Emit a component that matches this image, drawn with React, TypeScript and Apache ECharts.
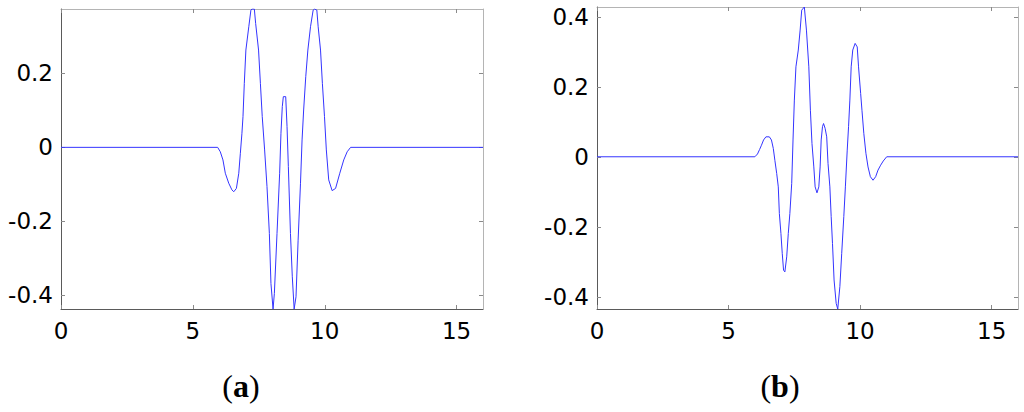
import React, { useEffect, useRef } from "react";
import * as echarts from "echarts";

// Panel (a) wavelet samples
const xA = [0, 5.94, 6.04, 6.14, 6.23, 6.36, 6.48, 6.55, 6.65, 6.74, 6.80, 6.86, 6.90, 6.95, 7.01, 7.12, 7.20, 7.24, 7.33, 7.38, 7.49, 7.56, 7.63, 7.72, 7.81, 7.90, 7.96, 8.04, 8.09, 8.19, 8.29, 8.34, 8.39, 8.43, 8.52, 8.57, 8.62, 8.70, 8.77, 8.84, 8.91, 8.99, 9.08, 9.14, 9.20, 9.28, 9.36, 9.46, 9.56, 9.61, 9.70, 9.75, 9.84, 9.91, 9.99, 10.06, 10.15, 10.28, 10.41, 10.57, 10.72, 10.85, 10.98, 16];
const yA = [0, 0, -0.012, -0.034, -0.070, -0.097, -0.115, -0.120, -0.111, -0.070, -0.016, 0.038, 0.083, 0.173, 0.263, 0.326, 0.371, 0.374, 0.374, 0.335, 0.263, 0.173, 0.083, -0.007, -0.106, -0.233, -0.368, -0.437, -0.395, -0.233, -0.070, 0.038, 0.110, 0.137, 0.137, 0.056, -0.052, -0.233, -0.350, -0.437, -0.404, -0.251, -0.097, 0.020, 0.101, 0.191, 0.263, 0.326, 0.371, 0.374, 0.371, 0.326, 0.263, 0.173, 0.083, -0.007, -0.088, -0.117, -0.111, -0.070, -0.034, -0.012, 0, 0];

// Panel (b) wavelet samples
const xB = [0, 6.00, 6.10, 6.18, 6.25, 6.33, 6.42, 6.55, 6.63, 6.70, 6.76, 6.83, 6.89, 6.93, 6.99, 7.04, 7.09, 7.14, 7.21, 7.27, 7.33, 7.40, 7.45, 7.50, 7.56, 7.65, 7.72, 7.78, 7.88, 7.96, 8.05, 8.11, 8.17, 8.24, 8.29, 8.36, 8.43, 8.48, 8.52, 8.57, 8.61, 8.67, 8.73, 8.78, 8.85, 8.90, 8.95, 9.01, 9.09, 9.15, 9.23, 9.30, 9.38, 9.44, 9.51, 9.56, 9.61, 9.66, 9.72, 9.81, 9.89, 9.94, 10.02, 10.07, 10.14, 10.22, 10.30, 10.39, 10.49, 10.59, 10.68, 10.78, 10.88, 11.01, 16];
const yB = [0, 0, 0.008, 0.021, 0.033, 0.048, 0.057, 0.057, 0.048, 0.024, -0.010, -0.048, -0.086, -0.162, -0.219, -0.276, -0.324, -0.329, -0.286, -0.219, -0.162, -0.076, 0.048, 0.162, 0.257, 0.305, 0.362, 0.419, 0.428, 0.362, 0.257, 0.133, 0.038, -0.029, -0.086, -0.103, -0.086, -0.029, 0.048, 0.086, 0.095, 0.081, 0.057, -0.019, -0.086, -0.171, -0.248, -0.352, -0.419, -0.435, -0.371, -0.276, -0.171, -0.086, 0.019, 0.086, 0.162, 0.257, 0.305, 0.324, 0.314, 0.257, 0.181, 0.133, 0.067, 0.010, -0.029, -0.057, -0.067, -0.057, -0.038, -0.024, -0.012, 0, 0];

// Axis ranges and ticks
const xRange = [0, 16];
const xTicks = [0, 5, 10, 15];
const yRangeA = [-0.437, 0.374];
const yTicksA = [-0.4, -0.2, 0, 0.2];
const yRangeB = [-0.435, 0.428];
const yTicksB = [-0.4, -0.2, 0, 0.2, 0.4];
const panelLabels = ["a", "b"];

const LABEL_FONT = "'DejaVu Sans', 'Liberation Sans', Arial, sans-serif";
const SERIF = "'Liberation Serif', 'Times New Roman', serif";

function xAxisFor(grid: number, pos: "bottom" | "top") {
  const main = pos === "bottom";
  return {
    type: "value",
    gridIndex: grid,
    position: pos,
    min: xRange[0],
    max: xRange[1],
    splitLine: { show: false },
    axisLine: { show: true, onZero: false, lineStyle: { color: main ? "#5a5a5a" : "#b4b4b4", width: 1 } },
    axisTick: {
      show: true,
      inside: true,
      length: 4,
      customValues: xTicks,
      lineStyle: { color: "#8a8a8a" },
    },
    axisLabel: {
      show: main,
      customValues: xTicks,
      fontSize: 23,
      fontFamily: LABEL_FONT,
      color: "#000",
      margin: 10,
    },
  };
}

function yAxisFor(grid: number, pos: "left" | "right", range: number[], ticks: number[]) {
  const main = pos === "left";
  return {
    type: "value",
    gridIndex: grid,
    position: pos,
    min: range[0],
    max: range[1],
    splitLine: { show: false },
    axisLine: { show: true, onZero: false, lineStyle: { color: main ? "#5a5a5a" : "#b4b4b4", width: 1 } },
    axisTick: {
      show: true,
      inside: true,
      length: 4,
      customValues: ticks,
      lineStyle: { color: "#8a8a8a" },
    },
    axisLabel: {
      show: main,
      customValues: ticks,
      fontSize: 23,
      fontFamily: LABEL_FONT,
      color: "#000",
      margin: 8,
      formatter: (v: number) => String(Math.round(v * 10) / 10),
    },
  };
}

export default function App() {
  const ref = useRef<HTMLDivElement>(null);
  useEffect(() => {
    if (!ref.current) return;
    const chart = echarts.init(ref.current, undefined, { renderer: "svg" });
    const dataA = xA.map((x, i) => [x, yA[i]]);
    const dataB = xB.map((x, i) => [x, yB[i]]);
    const labelRich = {
      p: { fontFamily: SERIF, fontSize: 32, fill: "#000" },
      b: { fontFamily: SERIF, fontSize: 32, fontWeight: "bold", fill: "#000" },
    };
    chart.setOption({
      animation: false,
      backgroundColor: "#fff",
      grid: [
        { left: 61, top: 9, width: 422, height: 300, containLabel: false },
        { left: 597, top: 7, width: 421, height: 302, containLabel: false },
      ],
      xAxis: [
        xAxisFor(0, "bottom"),
        xAxisFor(0, "top"),
        xAxisFor(1, "bottom"),
        xAxisFor(1, "top"),
      ],
      yAxis: [
        yAxisFor(0, "left", yRangeA, yTicksA),
        yAxisFor(0, "right", yRangeA, yTicksA),
        yAxisFor(1, "left", yRangeB, yTicksB),
        yAxisFor(1, "right", yRangeB, yTicksB),
      ],
      series: [
        {
          type: "line",
          xAxisIndex: 0,
          yAxisIndex: 0,
          data: dataA,
          showSymbol: false,
          symbol: "none",
          lineStyle: { color: "#3434ff", width: 1 },
        },
        {
          type: "line",
          xAxisIndex: 2,
          yAxisIndex: 2,
          data: dataB,
          showSymbol: false,
          symbol: "none",
          lineStyle: { color: "#3434ff", width: 1 },
        },
      ],
      graphic: [
        {
          type: "text",
          x: 241,
          y: 386,
          style: {
            text: `{p|(}{b|${panelLabels[0]}}{p|)}`,
            rich: labelRich,
            align: "center",
            verticalAlign: "middle",
          },
        },
        {
          type: "text",
          x: 780,
          y: 386,
          style: {
            text: `{p|(}{b|${panelLabels[1]}}{p|)}`,
            rich: labelRich,
            align: "center",
            verticalAlign: "middle",
          },
        },
      ],
    });
    return () => chart.dispose();
  }, []);
  return (
    <div
      ref={ref}
      style={{ position: "fixed", left: 0, top: 0, width: 1024, height: 412, background: "#fff" }}
    />
  );
}
